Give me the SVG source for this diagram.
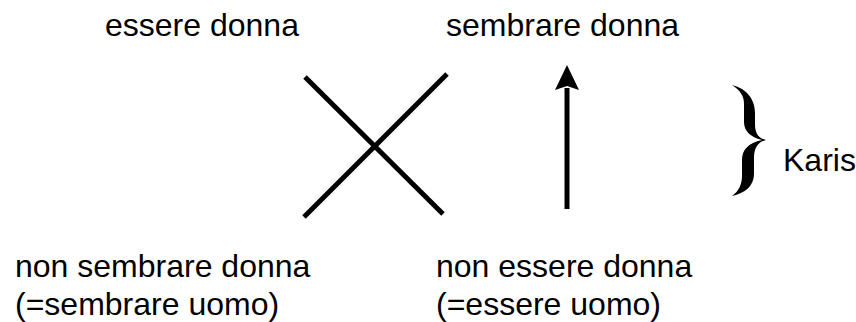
<svg xmlns="http://www.w3.org/2000/svg" width="856" height="322" viewBox="0 0 856 322">
<style>
text{font-family:"Liberation Sans",Arial,Helvetica,sans-serif;font-size:32px;fill:#000}
.ln{stroke:#000;stroke-width:5;fill:none;stroke-linecap:butt}
</style>
<rect width="856" height="322" fill="#fff"/>
<g id="essere-donna"><text x="105" y="36">essere donna</text></g>
<g id="sembrare-donna"><text x="446" y="36">sembrare donna</text></g>
<g id="non-sembrare-donna"><text x="15" y="277">non sembrare donna</text><text x="15" y="315">(=sembrare uomo)</text></g>
<g id="non-essere-donna"><text x="436" y="277">non essere donna</text><text x="436" y="315">(=essere uomo)</text></g>
<g id="karis">
<path d="M732 85 C745 88 755 98 755 113 L755 124 C755 133 758 138 766 140 C758 142 754 148 754 158 L754 174 C754 186 745 193 732 196 C739 191 742 184 742 176 L742 160 C742 150 748 143 762 140 C750 137 744 131 744 122 L744 104 C744 96 740 90 732 85 Z" fill="#000"/>
<text x="783" y="171">Karis</text>
</g>
<g id="connectors">
<line class="ln" x1="305" y1="77" x2="443" y2="214"/>
<line class="ln" x1="447" y1="74" x2="304" y2="217"/>
<line class="ln" x1="567" y1="209" x2="567" y2="88"/>
<path d="M567 65 L579 90 L567 86 L555 90 Z" fill="#000"/>
</g>
</svg>
